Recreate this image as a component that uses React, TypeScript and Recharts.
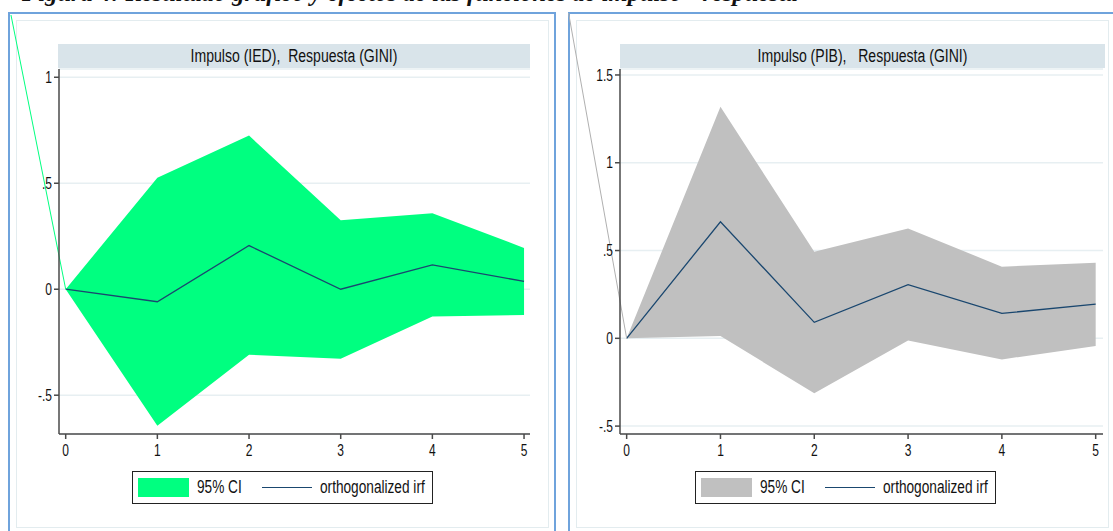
import { ComposedChart, Area, Line, XAxis, YAxis, CartesianGrid, Legend, ReferenceLine } from "recharts";

// horizonte (periodos) y bandas
const periods = [0, 1, 2, 3, 4, 5];

const iedLower = [0, -0.644, -0.309, -0.328, -0.129, -0.122];
const iedUpper = [0, 0.526, 0.725, 0.326, 0.359, 0.195];
const iedIrf = [0, -0.059, 0.206, 0.0, 0.115, 0.037];

const pibLower = [0, 0.013, -0.313, -0.013, -0.12, -0.044];
const pibUpper = [0, 1.319, 0.493, 0.626, 0.408, 0.431];
const pibIrf = [0, 0.664, 0.091, 0.306, 0.142, 0.195];

const xTicks = [0, 1, 2, 3, 4, 5];
const iedTicks = [-0.5, 0, 0.5, 1];
const pibTicks = [-0.5, 0, 0.5, 1, 1.5];

const SANS = '"Liberation Sans", Arial, sans-serif';
const NAVY = "#1a476f";
const AXIS = "#4a4a4a";
const SQUEEZE = 0.75; // el documento original esta estirado en vertical

// formato tipo Stata: .5, -.5
const fmt = (v: number) => {
    if (v === 0) return "0";
    const s = String(Math.abs(v)).replace(/^0/, "");
    return (v < 0 ? "-" : "") + s;
};

function XTick({ x, y, payload }: any) {
    return (
        <g transform={`translate(${x},${y})`}>
            <text transform={`scale(${SQUEEZE},1)`} textAnchor="middle" dy="0.71em" fontSize={16} fill="#111" fontFamily={SANS}>
                {fmt(payload.value)}
            </text>
        </g>
    );
}

function YTick({ x, y, payload }: any) {
    return (
        <g transform={`translate(${x},${y})`}>
            <text transform={`scale(${SQUEEZE},1)`} textAnchor="end" dy="0.355em" fontSize={16} fill="#111" fontFamily={SANS}>
                {fmt(payload.value)}
            </text>
        </g>
    );
}

const squeezed = (left: number, size: number): React.CSSProperties => ({
    position: "absolute",
    left,
    top: 0,
    height: 31,
    lineHeight: "31px",
    fontSize: size,
    whiteSpace: "nowrap",
    transform: `scaleX(${0.78})`,
    transformOrigin: "left center",
});

function LegendBox({ color }: { color: string }) {
    return (
        <div
            style={{
                position: "relative",
                boxSizing: "border-box",
                width: 301,
                height: 33,
                border: "1px solid #222",
                background: "#fff",
                fontFamily: SANS,
                color: "#111",
            }}
        >
            <div style={{ position: "absolute", left: 5, top: 6, width: 51, height: 19, background: color }} />
            <span style={squeezed(64, 17.5)}>95% CI</span>
            <div style={{ position: "absolute", left: 129, top: 15, width: 50, borderTop: `1.5px solid ${NAVY}` }} />
            <span style={squeezed(187, 17.5)}>orthogonalized irf</span>
        </div>
    );
}

interface PanelProps {
    left: number;
    width: number;
    title: string;
    lower: number[];
    upper: number[];
    irf: number[];
    color: string;
    lineColor: string;
    yDomain: [number, number];
    yTicks: number[];
    xDomain: [number, number];
    marginLeft: number;
    marginRight: number;
    stripLeft: number;
    stripWidth: number;
    legendLeft: number;
    corner: { x: number; y: number };
}

function Panel(p: PanelProps) {
    const data = periods.map((t, i) => ({ t, ci: [p.lower[i], p.upper[i]], irf: p.irf[i] }));
    return (
        <div style={{ position: "absolute", left: p.left, top: 0, width: p.width, height: 531 }}>
            <div
                style={{
                    position: "absolute",
                    left: p.stripLeft,
                    top: 44,
                    width: p.stripWidth,
                    height: 24,
                    background: "#d9e4ea",
                }}
            >
                <div
                    style={{
                        fontFamily: SANS,
                        fontSize: 18,
                        lineHeight: "24px",
                        textAlign: "center",
                        color: "#111",
                        whiteSpace: "pre",
                        transform: "scaleX(0.78)",
                    }}
                >
                    {p.title}
                </div>
            </div>
            <ComposedChart
                width={p.width}
                height={531}
                data={data}
                margin={{ top: 69, right: p.marginRight, left: p.marginLeft, bottom: 67 }}
            >
                <CartesianGrid horizontal vertical={false} stroke="#e7eff2" strokeWidth={1.5} />
                <XAxis
                    dataKey="t"
                    type="number"
                    domain={p.xDomain}
                    ticks={xTicks}
                    allowDataOverflow
                    height={30}
                    stroke={AXIS}
                    strokeWidth={1.5}
                    tickSize={5}
                    tickMargin={6}
                    tick={<XTick />}
                />
                <YAxis
                    type="number"
                    domain={p.yDomain}
                    ticks={p.yTicks}
                    allowDataOverflow
                    width={40}
                    stroke={AXIS}
                    strokeWidth={1.5}
                    tickSize={5}
                    tickMargin={2}
                    tick={<YTick />}
                />
                <Area
                    dataKey="ci"
                    type="linear"
                    stroke="none"
                    fill={p.color}
                    fillOpacity={1}
                    isAnimationActive={false}
                    legendType="none"
                />
                <Line
                    dataKey="irf"
                    type="linear"
                    stroke={NAVY}
                    strokeWidth={1.3}
                    dot={false}
                    activeDot={false}
                    isAnimationActive={false}
                />
                <ReferenceLine
                    segment={[{ x: 0, y: 0 }, { x: p.corner.x, y: p.corner.y }]}
                    stroke={p.lineColor}
                    strokeWidth={1}
                    ifOverflow="visible"
                />
                <Legend
                    layout="horizontal"
                    verticalAlign="middle"
                    align="center"
                    wrapperStyle={{ position: "absolute", left: p.legendLeft, top: 471, width: 301, height: 33 }}
                    content={() => <LegendBox color={p.color} />}
                />
            </ComposedChart>
        </div>
    );
}

export default function App() {
    return (
        <div style={{ position: "relative", width: 1113, height: 531, overflow: "hidden", background: "#fff" }}>
            <style>{"body{margin:0}"}</style>
            <div
                style={{
                    position: "absolute",
                    left: 22,
                    top: -20,
                    fontFamily: '"Liberation Serif", "Times New Roman", serif',
                    fontWeight: "bold",
                    fontStyle: "italic",
                    fontSize: 24.5,
                    lineHeight: "25px",
                    whiteSpace: "nowrap",
                    color: "#111",
                }}
            >
                Figura 4: Resultado gráfico y efectos de las funciones de impulso - respuesta
            </div>
            {/* marcos del documento */}
            <div style={{ position: "absolute", left: 8, top: 12, width: 548, height: 540, boxSizing: "border-box", border: "2px solid #6fa3dc" }} />
            <div style={{ position: "absolute", left: 16, top: 20, width: 533, height: 508, boxSizing: "border-box", border: "1px solid #e3ecef" }} />
            <div style={{ position: "absolute", left: 568, top: 12, width: 560, height: 540, boxSizing: "border-box", border: "2px solid #6fa3dc" }} />
            <div style={{ position: "absolute", left: 576, top: 20, width: 533, height: 508, boxSizing: "border-box", border: "1px solid #e3ecef" }} />

            <Panel
                left={0}
                width={560}
                title={"Impulso (IED),  Respuesta (GINI)"}
                lower={iedLower}
                upper={iedUpper}
                irf={iedIrf}
                color="#00ff80"
                lineColor="#00ff80"
                yDomain={[-0.683, 1.039]}
                yTicks={iedTicks}
                xDomain={[-0.073, 5.065]}
                marginLeft={19}
                marginRight={30}
                stripLeft={58}
                stripWidth={472}
                legendLeft={132}
                corner={{ x: -0.597, y: 1.294 }}
            />
            <Panel
                left={560}
                width={553}
                title={"Impulso (PIB),   Respuesta (GINI)"}
                lower={pibLower}
                upper={pibUpper}
                irf={pibIrf}
                color="#c0c0c0"
                lineColor="#b0b0b0"
                yDomain={[-0.545, 1.534]}
                yTicks={pibTicks}
                xDomain={[-0.071, 5.078]}
                marginLeft={20}
                marginRight={10}
                stripLeft={60}
                stripWidth={485}
                legendLeft={135}
                corner={{ x: -0.619, y: 1.852 }}
            />
        </div>
    );
}
